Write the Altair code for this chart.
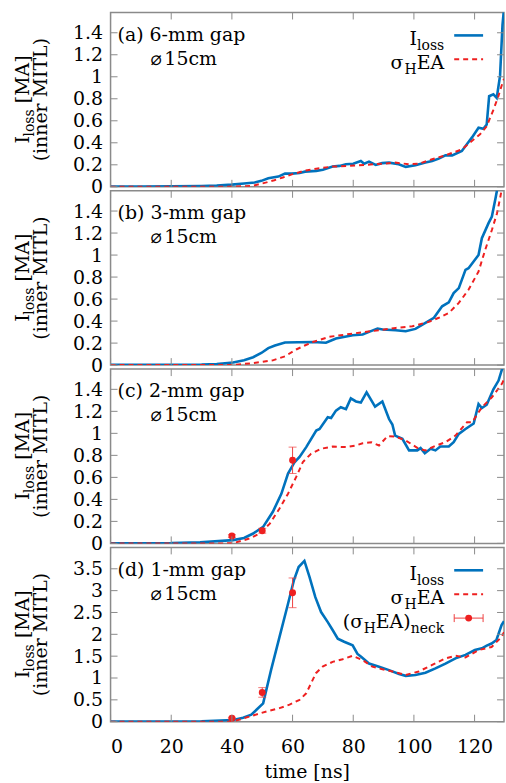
import altair as alt
import pandas as pd

FONT = "DejaVu Serif"
FS = 19
SUB = 14
BLUE = "#0072bd"
RED = "#ee2020"
ERRC = "#ee4040"
FRAME = "#8a8a8a"
W, H = 395, 175
XMAX = 129.7
XTICKS = [0, 20, 40, 60, 80, 100, 120]
YT_SMALL = [0, 0.2, 0.4, 0.6, 0.8, 1.0, 1.2, 1.4]
YT_BIG = [0, 0.5, 1.0, 1.5, 2.0, 2.5, 3.0, 3.5]

# ---- panel (a) 6-mm gap ----
a_blue_t = [0, 10, 20, 30, 35, 40, 44, 47.5, 49.7, 52, 55.3, 57.5, 59.7, 62.3, 64.1, 67.8, 70, 73.2, 75.5,
            77.6, 80, 82.5, 83.6, 85.2, 87.4, 89.5, 91.8, 95, 97.3, 100.5, 103.8, 106, 108.2, 110.4, 112.6,
            115.8, 118, 119.1, 121.3, 122.9, 124, 124.8, 126.2, 127.3, 128.4, 129.2, 129.7]
a_blue_v = [0.003, 0.003, 0.004, 0.008, 0.012, 0.02, 0.03, 0.039, 0.054, 0.078, 0.093, 0.12, 0.12, 0.125, 0.138,
            0.145, 0.155, 0.184, 0.19, 0.205, 0.21, 0.235, 0.21, 0.229, 0.199, 0.215, 0.22, 0.205, 0.181, 0.196,
            0.22, 0.235, 0.256, 0.286, 0.286, 0.326, 0.407, 0.447, 0.537, 0.527, 0.567, 0.823, 0.84, 0.808, 1.01,
            1.47, 1.62]
a_red_t = [0, 30, 40, 44, 47, 51.4, 54, 56.8, 60, 64, 67.8, 73.2, 78.7, 84, 89.5, 93.9, 98.3, 101.6, 106, 110.4,
           115.8, 119.1, 121.8, 124, 126.2, 127.8, 129.2, 129.7]
a_red_v = [0, 0, 0.002, 0.005, 0.01, 0.04, 0.06, 0.085, 0.115, 0.146, 0.165, 0.184, 0.19, 0.2, 0.21, 0.22, 0.205,
           0.21, 0.25, 0.286, 0.34, 0.417, 0.477, 0.55, 0.70, 0.82, 0.945, 0.98]

# ---- panel (b) 3-mm gap ----
b_blue_t = [0, 20, 30, 35, 40.4, 44, 47, 49.7, 52, 54.2, 57.5, 61.9, 66.7, 71, 74.3, 79.8, 83.1, 85.2, 88, 89.7,
            94, 97.3, 100.5, 103.8, 106.6, 109.3, 111.5, 113.1, 114.8, 117, 118, 121.3, 122.4, 124.6, 125.7,
            127, 127.8]
b_blue_v = [0.002, 0.003, 0.005, 0.01, 0.024, 0.045, 0.072, 0.11, 0.154, 0.178, 0.205, 0.208, 0.21, 0.203, 0.242,
            0.272, 0.278, 0.302, 0.332, 0.323, 0.317, 0.308, 0.329, 0.384, 0.43, 0.534, 0.57, 0.655, 0.7, 0.866,
            0.88, 1.0, 1.153, 1.29, 1.35, 1.53, 1.65]
b_red_t = [0, 38, 40.4, 47, 53.5, 57.5, 61.2, 64, 66.7, 72.1, 77.6, 83.1, 88.6, 94, 99.5, 104.9, 108.2, 111.5,
           114.8, 118, 121.3, 123.5, 125.7, 127.4, 128.5, 129.3]
b_red_v = [0, 0, 0.002, 0.018, 0.043, 0.08, 0.142, 0.178, 0.21, 0.257, 0.278, 0.299, 0.317, 0.338, 0.353, 0.393,
           0.43, 0.474, 0.565, 0.685, 0.85, 1.047, 1.228, 1.38, 1.53, 1.65]

# ---- panel (c) 2-mm gap ----
c_blue_t = [0, 20, 29.5, 40.4, 44, 47, 50.3, 53.5, 56.3, 58.5, 60.7, 62.3, 64.5, 67.8, 68.9, 71.6, 72.7, 74.3,
            75.9, 77.6, 79.2, 80.9, 82.5, 84.4, 87.2, 89.6, 91.8, 92.9, 93.8, 96.2, 98.4, 101.1, 102.2, 103.6,
            105.5, 107.1, 108.7, 111.5, 113.1, 114.8, 117, 119.7, 121.3, 122.4, 124, 126.2, 127.9, 129, 129.7]
c_blue_v = [0.002, 0.003, 0.01, 0.03, 0.05, 0.09, 0.15, 0.287, 0.45, 0.634, 0.74, 0.785, 0.875, 1.026, 1.04, 1.147,
            1.14, 1.207, 1.237, 1.22, 1.318, 1.29, 1.28, 1.373, 1.243, 1.29, 1.13, 1.08, 0.98, 0.95, 0.845, 0.845,
            0.866, 0.82, 0.86, 0.845, 0.88, 0.88, 0.92, 0.995, 1.04, 1.09, 1.267, 1.23, 1.26, 1.40, 1.48, 1.58, 1.65]
c_red_t = [0, 38, 40.4, 45.9, 49.2, 52.5, 55.7, 58.5, 61.2, 63.4, 66.1, 69.4, 73.2, 77.6, 80.9, 83.1, 85.9, 88.5,
           91.3, 94, 97.3, 101.6, 103.8, 107, 110.4, 113.7, 117.5, 119.2, 122.4, 125.7, 127.4, 129, 129.7]
c_red_v = [0, 0, 0.002, 0.045, 0.09, 0.18, 0.317, 0.452, 0.604, 0.74, 0.815, 0.86, 0.88, 0.875, 0.89, 0.91, 0.92,
           0.89, 0.975, 0.97, 0.935, 0.86, 0.845, 0.885, 0.92, 0.98, 1.10, 1.10, 1.237, 1.328, 1.39, 1.45, 1.49]
c_pt_t = [40, 50, 60]
c_pt_v = [0.067, 0.115, 0.755]
c_pt_e = [0.012, 0.022, 0.12]

# ---- panel (d) 1-mm gap ----
d_blue_t = [0, 20, 30, 40.4, 43.7, 46.4, 50.3, 52.9, 55.7, 58.5, 60.4, 62, 63.9, 65.6, 67.5, 69.4, 71.6, 73.2,
            74.9, 77, 79.8, 81.4, 82.5, 85.2, 88.5, 91.8, 95.1, 97.3, 100.5, 103.8, 107.1, 110.4, 113.7, 117,
            120.1, 122.4, 124, 125.6, 127.2, 128.9, 129.7]
d_blue_v = [0.005, 0.006, 0.01, 0.04, 0.09, 0.16, 0.42, 1.18, 1.94, 2.70, 3.23, 3.54, 3.68, 3.31, 2.85, 2.51, 2.28,
            2.10, 1.90, 1.83, 1.75, 1.55, 1.49, 1.33, 1.26, 1.18, 1.09, 1.05, 1.07, 1.12, 1.22, 1.33, 1.45, 1.53,
            1.64, 1.68, 1.74, 1.79, 1.87, 2.21, 2.3]
d_red_t = [0, 38, 40.4, 45.9, 51.4, 55.7, 59, 62.3, 64.5, 66.1, 67.7, 69.9, 73.2, 76.5, 79.8, 83.1, 86.3, 89.6,
           92.9, 97.3, 101.6, 106, 110.4, 113.7, 117, 121.3, 125.6, 128.9, 129.7]
d_red_v = [0, 0, 0.005, 0.12, 0.235, 0.31, 0.39, 0.5, 0.65, 0.88, 1.11, 1.26, 1.37, 1.43, 1.51, 1.41, 1.26, 1.2,
           1.15, 1.07, 1.15, 1.30, 1.45, 1.51, 1.47, 1.64, 1.71, 1.94, 2.05]
d_pt_t = [40, 50, 60]
d_pt_v = [0.08, 0.67, 2.95]
d_pt_e = [0.02, 0.11, 0.34]


def one():
    return pd.DataFrame({"k": [0]})


def txt(s, x, y, size=FS, align="left", angle=0, font=FONT):
    kw = dict(align=align, baseline="alphabetic", font=font, fontSize=size, color="black", text=s)
    if angle:
        kw["angle"] = angle
    return alt.Chart(one()).mark_text(**kw).encode(x=alt.value(x), y=alt.value(y))


def hline(x1, x2, y, color, width=1.0, dash=None):
    kw = dict(color=color, strokeWidth=width)
    if dash:
        kw["strokeDash"] = dash
    return alt.Chart(one()).mark_rule(**kw).encode(x=alt.value(x1), x2=alt.value(x2), y=alt.value(y))


def vline(x, y1, y2, color, width=1.0):
    return alt.Chart(one()).mark_rule(color=color, strokeWidth=width).encode(
        x=alt.value(x), y=alt.value(y1), y2=alt.value(y2))


def panel(label, bt, bv, rt, rv, ymax, yticks, bottom=False, pts=None):
    xsc = alt.Scale(domain=[0, XMAX], nice=False, zero=False)
    ysc = alt.Scale(domain=[0, ymax], nice=False, zero=False)
    if bottom:
        xax = alt.Axis(values=XTICKS, format="d", ticks=False, domain=False, grid=False, labelOverlap=False,
                       title=None, labelPadding=16, labelFontSize=FS, labelFont=FONT, labelColor="black")
    else:
        xax = None
    yax = alt.Axis(values=yticks, format="~g", ticks=False, domain=False, grid=False, title=None,
                   labelOverlap=False, labelPadding=8, labelFontSize=FS, labelFont=FONT, labelColor="black")
    X = alt.X("t:Q", scale=xsc, axis=xax)

    def Y(f):
        return alt.Y(f + ":Q", scale=ysc, axis=yax)

    layers = []
    layers.append(alt.Chart(pd.DataFrame({"t": bt, "v": bv})).mark_line(
        color=BLUE, strokeWidth=2.6, clip=True).encode(x=X, y=Y("v")))
    layers.append(alt.Chart(pd.DataFrame({"t": rt, "v": rv})).mark_line(
        color=RED, strokeWidth=2.0, strokeDash=[5, 4], clip=True).encode(x=X, y=Y("v")))
    if pts is not None:
        pt_t, pt_v, pt_e = pts
        pdf = pd.DataFrame({"t": pt_t, "v": pt_v,
                            "lo": [v - e for v, e in zip(pt_v, pt_e)],
                            "hi": [v + e for v, e in zip(pt_v, pt_e)]})
        ch = alt.Chart(pdf)
        layers.append(ch.mark_rule(color=ERRC, strokeWidth=1).encode(x=X, y=Y("lo"), y2="hi:Q"))
        layers.append(ch.mark_tick(orient="horizontal", color=ERRC, thickness=1, size=8).encode(x=X, y=Y("lo")))
        layers.append(ch.mark_tick(orient="horizontal", color=ERRC, thickness=1, size=8).encode(x=X, y=Y("hi")))
        layers.append(ch.mark_circle(color=RED, size=48, opacity=1).encode(x=X, y=Y("v")))

    # inward mirrored ticks
    ydf = alt.Chart(pd.DataFrame({"v": yticks}))
    layers.append(ydf.mark_rule(color=FRAME, strokeWidth=1).encode(x=alt.value(0), x2=alt.value(7), y=Y("v")))
    layers.append(ydf.mark_rule(color=FRAME, strokeWidth=1).encode(x=alt.value(W - 7), x2=alt.value(W), y=Y("v")))
    xdf = alt.Chart(pd.DataFrame({"t": XTICKS}))
    layers.append(xdf.mark_rule(color=FRAME, strokeWidth=1).encode(x=X, y=alt.value(H - 7), y2=alt.value(H)))
    layers.append(xdf.mark_rule(color=FRAME, strokeWidth=1).encode(x=X, y=alt.value(0), y2=alt.value(7)))

    # panel labels
    layers.append(txt(label, 7, 28.5))
    layers.append(txt("\u2300", 40, 52.5, 19, font="DejaVu Sans"))
    layers.append(txt("15cm", 54, 52.5))

    # y-axis title (rotated, two lines)
    y0 = H / 2 + 44
    layers.append(txt("I", -82, y0, FS, "left", 270))
    layers.append(txt("loss", -77, y0 - 7, SUB, "left", 270))
    layers.append(txt("[MA]", -82, y0 - 7 - 27.5 - 6, FS, "left", 270))
    layers.append(txt("(inner MITL)", -63.5, H / 2, FS, "center", 270))

    # legend
    if label.startswith("(a)") or label.startswith("(d)"):
        layers.append(txt("loss", 335, 38, SUB, "right"))
        layers.append(txt("I", 307.5, 33, FS, "right"))
        layers.append(hline(345, 374, 23, BLUE, 2.6))
        layers.append(txt("EA", 335, 57, FS, "right"))
        layers.append(txt("H", 307.2, 62, SUB, "right"))
        layers.append(txt("\u03c3", 294, 57, FS, "right"))
        layers.append(hline(345, 374, 47, RED, 2.0, [5, 4]))
    if label.startswith("(d)"):
        layers.append(txt("neck", 335, 86, SUB, "right"))
        layers.append(txt("EA)", 301.2, 81, FS, "right"))
        layers.append(txt("H", 266.3, 86, SUB, "right"))
        layers.append(txt("(\u03c3", 253.5, 81, FS, "right"))
        layers.append(hline(345, 374, 71, ERRC, 1.0))
        layers.append(vline(345, 67, 75, ERRC))
        layers.append(vline(374, 67, 75, ERRC))
        layers.append(alt.Chart(one()).mark_circle(color=RED, size=48, opacity=1).encode(
            x=alt.value(359.5), y=alt.value(71)))
    if bottom:
        layers.append(txt("time [ns]", W / 2, H + 56.5, FS, "center"))

    return alt.layer(*layers).properties(width=W, height=H)


pa = panel("(a) 6-mm gap", a_blue_t, a_blue_v, a_red_t, a_red_v, 1.584, YT_SMALL)
pb = panel("(b) 3-mm gap", b_blue_t, b_blue_v, b_red_t, b_red_v, 1.584, YT_SMALL)
pc = panel("(c) 2-mm gap", c_blue_t, c_blue_v, c_red_t, c_red_v, 1.584, YT_SMALL,
           pts=(c_pt_t, c_pt_v, c_pt_e))
pd_ = panel("(d) 1-mm gap", d_blue_t, d_blue_v, d_red_t, d_red_v, 3.99, YT_BIG, bottom=True,
            pts=(d_pt_t, d_pt_v, d_pt_e))

chart = alt.vconcat(pa, pb, pc, pd_, spacing=4, bounds="flush").properties(
    padding={"left": 13, "top": 9, "right": 0, "bottom": 0},
    background="white",
).configure_view(stroke=FRAME, strokeWidth=1.5)

chart.save("out.html", embed_options={"renderer": "svg", "actions": False})
